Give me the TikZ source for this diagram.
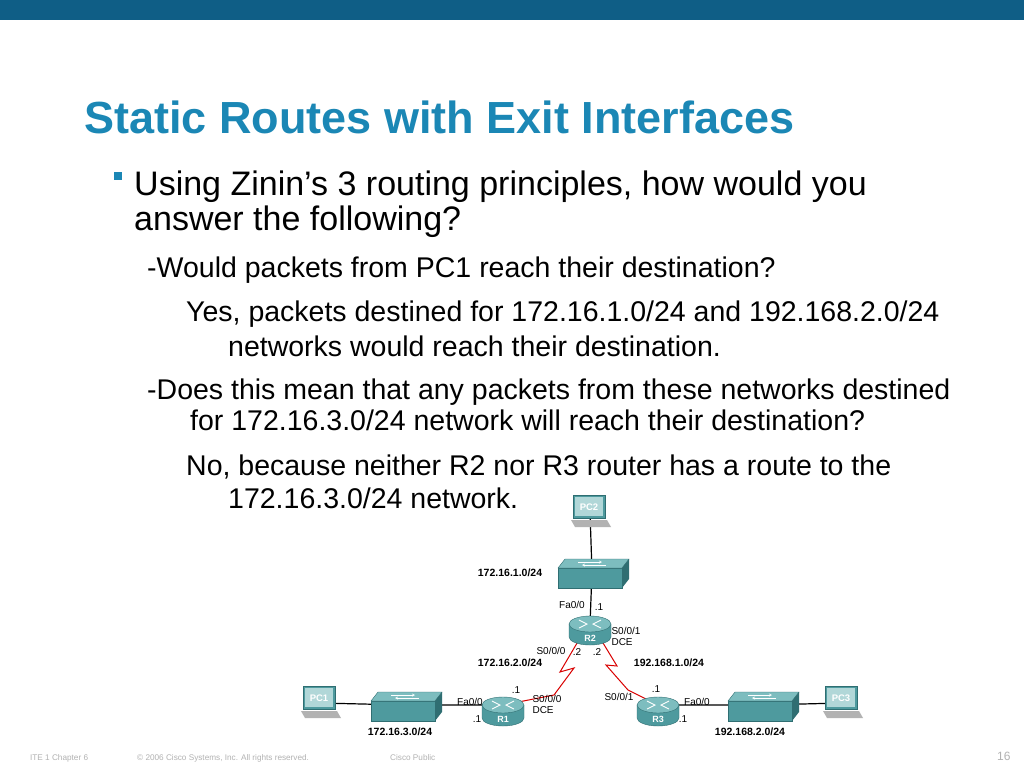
\documentclass[tikz,border=0pt]{standalone}
\usepackage{fontspec}
\setmainfont{Liberation Sans}
\definecolor{devc}{HTML}{4E9A9E}
\definecolor{devt}{HTML}{7DBDBF}
\definecolor{devd}{HTML}{2F6E72}
\definecolor{titlec}{HTML}{1B87B5}
\definecolor{barc}{HTML}{0F5E86}
\begin{document}
\begin{tikzpicture}[x=1pt,y=-1pt,
  dev/.style={fill=devc, draw=devd},
  lbl/.style={font=\fontsize{10.5}{12}\selectfont\bfseries, inner sep=0pt},
  ilbl/.style={font=\fontsize{10}{11}\selectfont, inner sep=0pt, align=left},
  body/.style={anchor=base west, inner sep=0pt},
  eth/.style={black, line width=1.2pt},
  ser/.style={red!85!black, line width=1pt},
  router/.pic={
    \fill[dev] (-21,0) -- (-21,13) arc[start angle=180,end angle=0,x radius=21,y radius=8] -- (21,0) -- cycle;
    \fill[fill=devt, draw=devd] (0,0) ellipse[x radius=21,y radius=8];
    \draw[white, line width=0.9pt] (-11,-4)--(-3,0)--(-11,4) (11,-4)--(3,0)--(11,4);
    \node[white,font=\fontsize{9}{10}\selectfont\bfseries] at (0,14) {\tikzpictext};},
  switch/.pic={
    \fill[dev] (-34,-4) rectangle (30,16);
    \fill[fill=devt, draw=devd] (-34,-4) -- (-27,-13) -- (37,-13) -- (30,-4) -- cycle;
    \fill[devd] (30,-4) -- (37,-13) -- (37,7) -- (30,16) -- cycle;
    \draw[white,->,>=stealth] (-14,-10)--(10,-10);\draw[white,<-,>=stealth] (-10,-7)--(14,-7);},
  pc/.pic={
    \fill[dev] (-17,-17) rectangle (15,6);
    \fill[devt!60!white] (-15,-15) rectangle (13,4);
    \node[font=\fontsize{9.5}{10}\selectfont\bfseries, text=white] at (-1,-5) {\tikzpictext};
    \fill[gray!60] (-19,8) -- (17,8) -- (21,15) -- (-15,15) -- cycle;}
]
\useasboundingbox (0,0) rectangle (1024,768);
\fill[white] (0,0) rectangle (1024,768);
\fill[barc] (0,0) rectangle (1024,20);
\node[body, text=titlec, font=\fontsize{45}{50}\selectfont\bfseries] (title) at (84,133) {Static Routes with Exit Interfaces};
\fill[titlec] (114,172) rectangle (122,180);
\node[body, font=\fontsize{34}{38}\selectfont] (t1) at (134,195) {Using Zinin’s 3 routing principles, how would you};
\node[body, font=\fontsize{34}{38}\selectfont] (t2) at (134,230) {answer the following?};
\node[body, font=\fontsize{28.5}{32}\selectfont] (t3) at (147,277) {-Would packets from PC1 reach their destination?};
\node[body, font=\fontsize{28.5}{32}\selectfont] (t4) at (186,321) {Yes, packets destined for 172.16.1.0/24 and 192.168.2.0/24};
\node[body, font=\fontsize{28.5}{32}\selectfont] (t5) at (228,356) {networks would reach their destination.};
\node[body, font=\fontsize{28.5}{32}\selectfont] (t6) at (147,399) {-Does this mean that any packets from these networks destined};
\node[body, font=\fontsize{28.5}{32}\selectfont] (t7) at (190,430) {for 172.16.3.0/24 network will reach their destination?};
\node[body, font=\fontsize{28.5}{32}\selectfont] (t8) at (186,475) {No, because neither R2 nor R3 router has a route to the};
\node[body, font=\fontsize{28.5}{32}\selectfont] (t9) at (228,508) {172.16.3.0/24 network.};
% coordinates
\coordinate (pc2) at (590,512);
\coordinate (sw2) at (592,572);
\coordinate (r2) at (590,624);
\coordinate (r1) at (503,705);
\coordinate (r3) at (658,705);
\coordinate (pc1) at (320,703);
\coordinate (sw1) at (405,705);
\coordinate (sw3) at (762,705);
\coordinate (pc3) at (842,703);
% links
\draw[eth] (pc2) -- (sw2);
\draw[eth] (sw2) -- (r2);
\draw[eth] (pc1) -- (sw1) -- (r1);
\draw[eth] (r3) -- (sw3) -- (pc3);
\draw[ser] (580,638) -- (560,672) -- (574,668) -- (554,695) -- (r1);
\draw[ser] (600,638) -- (617,666) -- (606,665) -- (628,690) -- (r3);
% devices
\pic[pic text=PC2] at (pc2) {pc};
\pic at (sw2) {switch};
\pic[pic text=R2] at (r2) {router};
\pic[pic text=R1] at (r1) {router};
\pic[pic text=R3] at (r3) {router};
\pic[pic text=PC1] at (pc1) {pc};
\pic at (sw1) {switch};
\pic at (sw3) {switch};
\pic[pic text=PC3] at (pc3) {pc};
% labels
\node[lbl] (l1) at (510,573) {172.16.1.0/24};
\node[ilbl] (a1) at (572,605) {Fa0/0};
\node[ilbl] (a2) at (599,607) {.1};
\node[ilbl] (a3) at (626,636) {S0/0/1\\DCE};
\node[ilbl] (a4) at (551,651) {S0/0/0};
\node[ilbl] (a5) at (577,652) {.2};
\node[ilbl] (a6) at (597,652) {.2};
\node[lbl] (l2) at (510,663) {172.16.2.0/24};
\node[lbl] (l3) at (669,663) {192.168.1.0/24};
\node[ilbl] (a7) at (516,690) {.1};
\node[ilbl] (a8) at (547,704) {S0/0/0\\DCE};
\node[ilbl] (a9) at (470,702) {Fa0/0};
\node[ilbl] (a10) at (477,719) {.1};
\node[ilbl] (a11) at (656,689) {.1};
\node[ilbl] (a12) at (619,697) {S0/0/1};
\node[ilbl] (a13) at (697,702) {Fa0/0};
\node[ilbl] (a14) at (683,719) {.1};
\node[lbl] (l4) at (400,732) {172.16.3.0/24};
\node[lbl] (l5) at (750,732) {192.168.2.0/24};
% footer
\begin{scope}[every node/.style={anchor=base west, text=gray!60, font=\fontsize{8.2}{9}\selectfont, inner sep=0pt}]
\node (f1) at (30,760) {ITE 1 Chapter 6};
\node (f2) at (137,760) {© 2006 Cisco Systems, Inc. All rights reserved.};
\node (f3) at (390,760) {Cisco Public};
\node[font=\fontsize{12}{14}\selectfont] (f4) at (997,760) {16};
\end{scope}
\end{tikzpicture}
\end{document}
